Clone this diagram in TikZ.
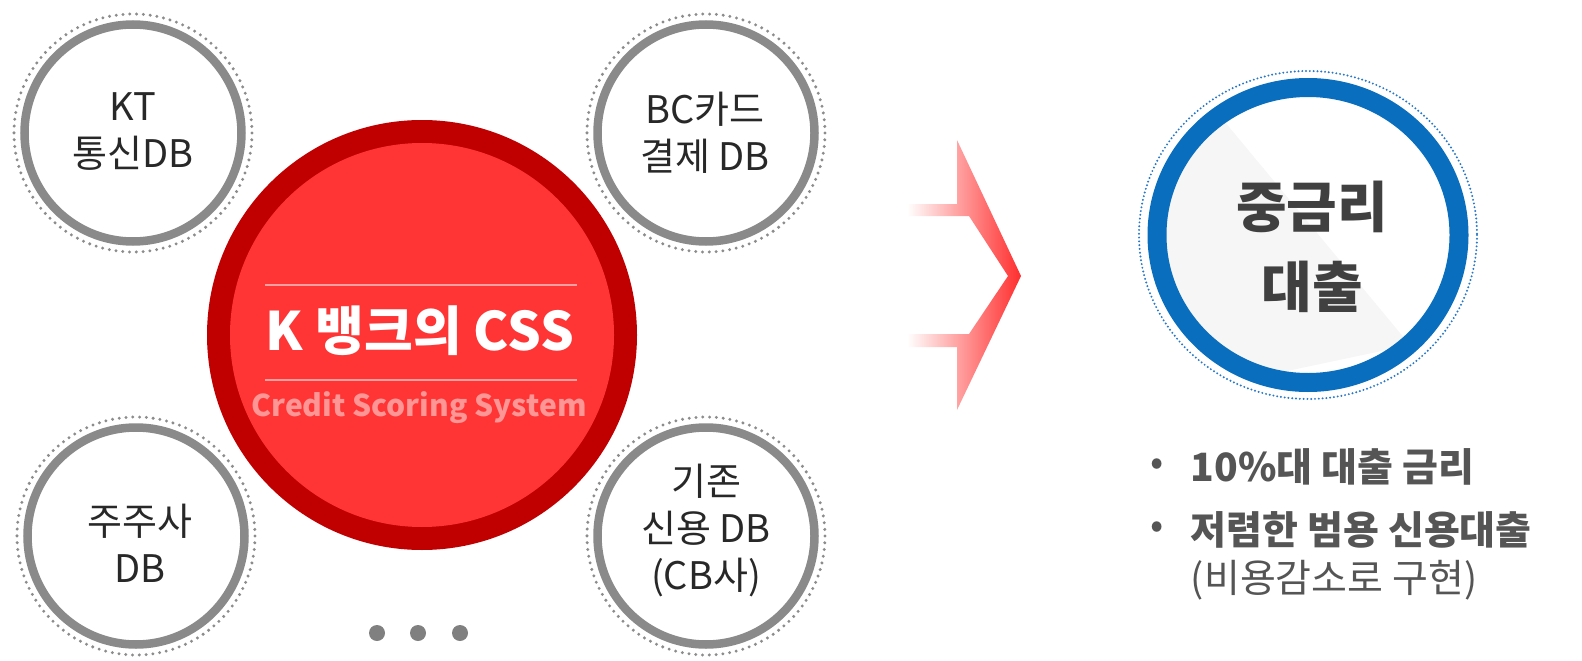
\documentclass[tikz,border=0pt]{standalone}
\usepackage{fontspec}
\usepackage{tikz}
\newfontfamily\krfont{Noto Sans CJK KR}

\begin{document}
\begin{tikzpicture}[x=1pt,y=1pt,yscale=-1,xscale=1,
	dbring/.style={draw={rgb, 255:red, 138; green, 138; blue, 138 }, line width=8.5},
	dbdots/.style={draw={rgb, 255:red, 140; green, 140; blue, 140 }, line width=3.3, line cap=round, dash pattern=on 0pt off 6.8pt},
	dbtext/.style={inner sep=0.75pt, align=center, text={rgb, 255:red, 40; green, 40; blue, 40 }, font=\krfont\fontsize{38}{47}\selectfont},
	bullettext/.style={inner sep=0.75pt, anchor=west, text={rgb, 255:red, 85; green, 85; blue, 85 }, font=\krfont\fontsize{39}{47}\selectfont}]
	\useasboundingbox (0,0) rectangle (1582,661);
	
	%Shape: Circle (KT)
	\draw [dbdots] (133,133) circle (119);
	\draw [dbring] (133,133) circle (108.5);
	%Shape: Circle (BC)
	\draw [dbdots] (706,133) circle (119);
	\draw [dbring] (706,133) circle (108.5);
	%Shape: Circle (shareholders)
	\draw [dbdots] (136,536) circle (119);
	\draw [dbring] (136,536) circle (108.5);
	%Shape: Circle (CB)
	\draw [dbdots] (706,536) circle (119);
	\draw [dbring] (706,536) circle (108.5);
	
	%Shape: Circle (CSS)
	\fill [color={rgb, 255:red, 192; green, 0; blue, 0 }] (422,335) circle (215);
	\fill [color={rgb, 255:red, 255; green, 53; blue, 53 }] (422,335) circle (192);
	%Straight Lines
	\draw [color={rgb, 255:red, 255; green, 160; blue, 160 }, line width=1.5] (265,285) -- (577,285);
	\draw [color={rgb, 255:red, 255; green, 160; blue, 160 }, line width=1.5] (265,380) -- (577,380);
	
	%Shape: Dots
	\foreach \dx in {377,418,460}
		\fill [color={rgb, 255:red, 128; green, 128; blue, 128 }] (\dx,633) circle (8);
	
	%Shape: Chevron
	\shade [left color=white, right color={rgb, 255:red, 255; green, 45; blue, 45 }]
		(957,140) -- (957,204) -- (907,204) -- (907,216) -- (969,216) -- (1008,276) -- (969,334) -- (907,334) -- (907,347) -- (957,347) -- (957,410) -- (1021,276) -- cycle;
	
	%Shape: Circle (result)
	\begin{scope}
		\clip (1308,235) ellipse [x radius=142, y radius=139];
		\fill [color={rgb, 255:red, 246; green, 246; blue, 246 }] (1215,110) -- (1410,345) -- (1150,400) -- (1150,110) -- cycle;
	\end{scope}
	\draw [draw={rgb, 255:red, 40; green, 120; blue, 200 }, line width=2.2, line cap=round, dash pattern=on 0pt off 3.8pt] (1308,235) ellipse [x radius=169, y radius=164];
	\draw [draw={rgb, 255:red, 10; green, 110; blue, 190 }, line width=19] (1308,235) ellipse [x radius=151, y radius=147.5];
	
	% Text Node
	\node [dbtext] (kt) at (133,132) {KT\\통신DB};
	% Text Node
	\node [dbtext] (bc) at (705,133) {BC카드\\결제 DB};
	% Text Node
	\node [dbtext] (share) at (140,543) {주주사\\DB};
	% Text Node
	\node [dbtext] (cb) at (706,531) {기존\\신용 DB\\(CB사)};
	% Text Node
	\node [inner sep=0.75pt, text=white, font=\krfont\bfseries\fontsize{53}{60}\selectfont] (css) at (420,331) {K 뱅크의 CSS};
	% Text Node
	\node [inner sep=0.75pt, text={rgb, 255:red, 255; green, 150; blue, 150 }, font=\krfont\bfseries\fontsize{30}{36}\selectfont] (credit) at (419,408) {Credit Scoring System};
	% Text Node
	\node [inner sep=0.75pt, align=center, text={rgb, 255:red, 64; green, 64; blue, 64 }, font=\krfont\bfseries\fontsize{55}{80}\selectfont] (loan) at (1312,247) {중금리\\대출};
	% Text Node
	\node [bullettext] (b1) at (1150,467) {•};
	\node [bullettext, font=\krfont\bfseries\fontsize{39}{47}\selectfont] (rate) at (1190,467) {10\%대 대출 금리};
	% Text Node
	\node [bullettext] (b2) at (1150,530) {•};
	\node [bullettext, font=\krfont\bfseries\fontsize{39}{47}\selectfont] (cheap) at (1190,530) {저렴한 범용 신용대출};
	% Text Node
	\node [bullettext] (cost) at (1190,580) {(비용감소로 구현)};
	
\end{tikzpicture}
\end{document}
